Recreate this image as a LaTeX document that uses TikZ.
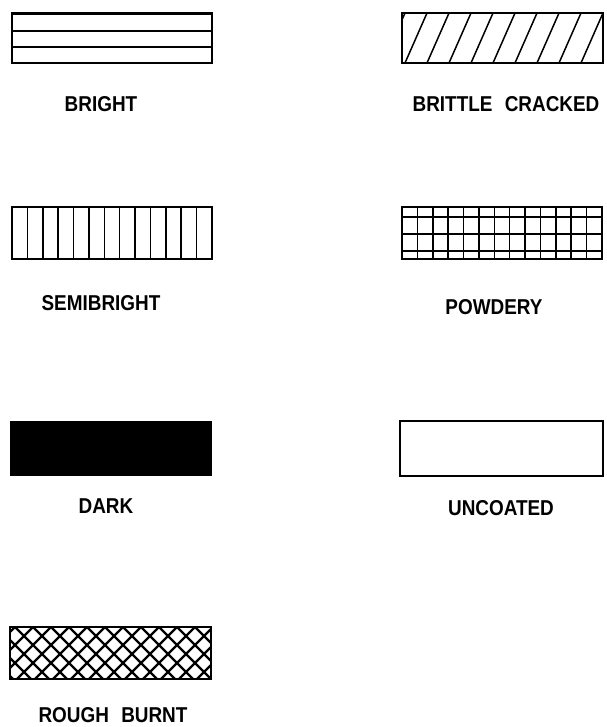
\documentclass[tikz,border=0pt]{standalone}
\usepackage{fontspec}
\setmainfont{Liberation Sans}
\tikzset{
  frame/.style={line width=1.8pt},
  hatch/.style={line width=1.5pt},
  xhatch/.style={line width=2.2pt},
  lbl/.style={font=\fontsize{21.5}{22}\selectfont\bfseries, xscale=0.88, inner sep=0pt, anchor=center}
}
\begin{document}
\begin{tikzpicture}[x=1pt,y=-1pt]
\useasboundingbox (0,0) rectangle (606,727);
% BRIGHT
\draw[hatch] (12,31) -- (212,31) (12,47) -- (212,47);
\draw[frame] (12,13) rectangle (212,63);
\draw[line width=3pt] (12,14) -- (212,14);
\node[lbl] (bright) at (101,104) {BRIGHT};
% BRITTLE CRACKED
\begin{scope}
\clip (402,13) rectangle (603,63);
\foreach \k in {0,...,10} \draw[hatch] ({383+22*\k},63) -- ({405+22*\k},13);
\end{scope}
\draw[frame] (402,13) rectangle (603,63);
\node[lbl] (brittle) at (506,104) {BRITTLE\hspace{14pt}CRACKED};
% SEMIBRIGHT
\foreach \k in {1,...,12} \draw[hatch] ({12+200*\k/13},207) -- ++(0,52);
\draw[frame] (12,207) rectangle (212,259);
\node[lbl] (semi) at (101,303) {SEMIBRIGHT};
% POWDERY
\foreach \k in {1,...,12} \draw[hatch] ({402+200*\k/13},207) -- ++(0,52);
\draw[hatch] (402,217) -- (602,217) (402,234) -- (602,234) (402,251) -- (602,251);
\draw[frame] (402,207) rectangle (602,259);
\node[lbl] (powdery) at (494,307) {POWDERY};
% DARK
\fill (10,421) rectangle (212,476);
\node[lbl] (dark) at (106,506) {DARK};
% UNCOATED
\draw[frame] (400,421) rectangle (603,476);
\node[lbl] (uncoated) at (501,508) {UNCOATED};
% ROUGH BURNT
\begin{scope}
\clip (10,627) rectangle (211,679);
\foreach \k in {-4,...,14} {
  \draw[xhatch] ({15+18*\k},627) -- ++(60,60);
  \draw[xhatch] ({15+18*\k},627) -- ++(-60,60);
}
\end{scope}
\draw[frame] (10,627) rectangle (211,679);
\node[lbl] (rough) at (113,715) {ROUGH\hspace{14pt}BURNT};
\end{tikzpicture}
\end{document}
